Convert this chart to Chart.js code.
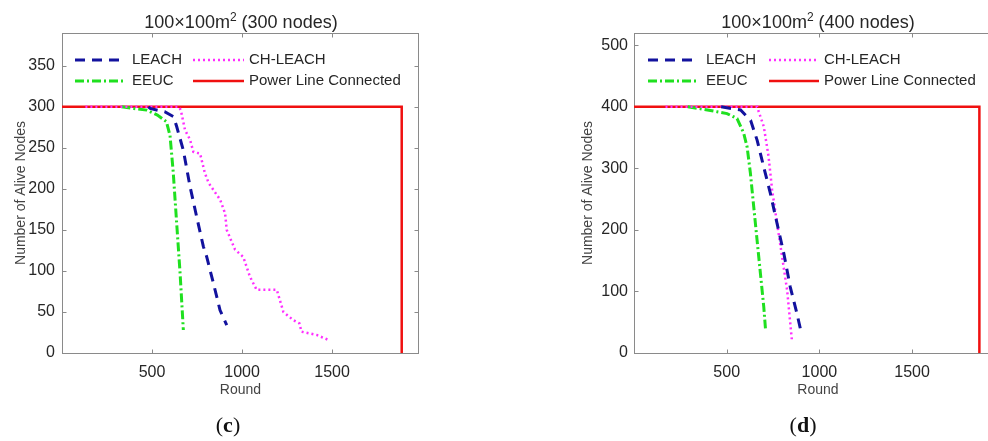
<!DOCTYPE html>
<html>
<head>
<meta charset="utf-8">
<title>Alive nodes per round</title>
<script src="https://cdn.jsdelivr.net/npm/chart.js"></script>
<style>
  body {
    margin: 0;
    background: #fff;
    width: 988px;
    height: 441px;
    overflow: hidden;
    position: relative;
    font-family: "Liberation Sans", Arial, sans-serif;
  }
  canvas { position: absolute; top: 0; }
  #chartC { left: 0; }
  #chartD { left: 494px; }
  .title {
    position: absolute;
    top: 11px;
    font-size: 18px;
    line-height: 22px;
    color: #262626;
    white-space: nowrap;
    transform: translateX(-50%);
  }
  .title sup { font-size: 12px; line-height: 0; vertical-align: 7px; }
  .panel {
    position: absolute;
    top: 412px;
    font-family: "Liberation Serif", serif;
    font-size: 22px;
    line-height: 26px;
    color: #111;
    transform: translateX(-50%);
  }
</style>
</head>
<body>
  <canvas id="chartC" width="494" height="441"></canvas>
  <canvas id="chartD" width="520" height="441"></canvas>
  <div class="title" style="left:241px">100×100m<sup>2</sup> (300 nodes)</div>
  <div class="title" style="left:818px">100×100m<sup>2</sup> (400 nodes)</div>
  <div class="panel" style="left:228px">(<b>c</b>)</div>
  <div class="panel" style="left:803px">(<b>d</b>)</div>

<script>
// Round / alive-node pairs, 300 node network
const leachC = [[480,300],[490,298],[570,294],[620,288],[637,276],[674,247],[711,203],[748,166],[785,130],[804,117],[841,85],[878,52],[915,34]];
const chLeachC = [[130,300],[650,300],[660,296],[683,272],[711,260],[730,245],[767,243],[794,219],[815,207],[878,187],[906,170],[915,150],[961,126],[1007,117],[1044,93],[1081,77],[1193,77],[1230,50],[1285,40],[1319,36],[1330,26],[1415,22],[1479,16]];
const eeucC = [[330,300],[400,298],[470,296],[530,290],[580,282],[600,265],[618,220],[637,158],[656,97],[674,28]];
const powerC = [[0,300],[1887,300],[1887,0]];

// Round / alive-node pairs, 400 node network
const leachD = [[470,400],[575,395],[629,378],[664,346],[700,302],[736,259],[772,210],[808,162],[843,107],[879,64],[897,40]];
const chLeachD = [[170,400],[664,400],[700,368],[726,319],[745,265],[772,210],[799,156],[826,102],[843,48],[852,20]];
const eeucD = [[290,400],[358,397],[448,392],[502,389],[556,381],[592,357],[610,335],[628,292],[646,237],[664,183],[682,129],[700,75],[709,40]];
const powerD = [[0,400],[1863,400],[1863,0]];

// axis ticks
const roundTicks = [500, 1000, 1500];
const aliveTicksC = [0, 50, 100, 150, 200, 250, 300, 350];
const aliveTicksD = [0, 100, 200, 300, 400, 500];

const seriesNames = ['LEACH', 'CH-LEACH', 'EEUC', 'Power Line Connected'];

const TEXT = '#262626';
const AXIS = '#8a8a8a';
const FONT = '"Liberation Sans", Arial, sans-serif';

function line(label, pts, color, dash, width) {
  return {
    label,
    data: pts.map(p => ({ x: p[0], y: p[1] })),
    showLine: true,
    borderColor: color,
    backgroundColor: color,
    borderDash: dash,
    borderWidth: width,
    pointRadius: 0,
    tension: 0
  };
}

// MATLAB-style box with inward ticks, plus the two-column legend
const boxPlot = {
  id: 'boxPlot',
  beforeDatasetsDraw(chart) {
    const { ctx, chartArea: a, scales: { x, y } } = chart;
    const L = Math.round(a.left) + 0.5, R = Math.round(a.right) - 0.5;
    const T = Math.round(a.top) + 0.5, B = Math.round(a.bottom) + 0.5;
    ctx.save();
    ctx.strokeStyle = AXIS;
    ctx.lineWidth = 1;
    ctx.strokeRect(L, T, R - L, B - T);
    ctx.beginPath();
    x.ticks.forEach(t => {
      const px = Math.round(x.getPixelForValue(t.value)) + 0.5;
      ctx.moveTo(px, B); ctx.lineTo(px, B - 4);
      ctx.moveTo(px, T); ctx.lineTo(px, T + 4);
    });
    y.ticks.forEach(t => {
      const py = Math.round(y.getPixelForValue(t.value)) + 0.5;
      ctx.moveTo(L, py); ctx.lineTo(L + 4, py);
      ctx.moveTo(R, py); ctx.lineTo(R - 4, py);
    });
    ctx.stroke();
    ctx.restore();
  },
  afterDatasetsDraw(chart, args, opts) {
    const { ctx, chartArea: a } = chart;
    ctx.save();
    ctx.font = '15px ' + FONT;
    ctx.textBaseline = 'middle';
    chart.data.datasets.forEach((ds, i) => {
      const col = opts.cols[i % 2];
      const yy = a.top + opts.rows[Math.floor(i / 2)];
      ctx.beginPath();
      ctx.strokeStyle = ds.borderColor;
      ctx.lineWidth = ds.borderWidth;
      ctx.setLineDash(ds.borderDash);
      ctx.moveTo(a.left + col[0], yy);
      ctx.lineTo(a.left + col[1], yy);
      ctx.stroke();
      ctx.setLineDash([]);
      ctx.fillStyle = TEXT;
      ctx.fillText(ds.label, a.left + col[2], yy);
    });
    ctx.restore();
  }
};

function buildChart(id, cfg) {
  new Chart(document.getElementById(id), {
    type: 'scatter',
    data: {
      datasets: [
        line(seriesNames[0], cfg.leach, '#12129e', [10, 7], 3),
        line(seriesNames[1], cfg.chLeach, '#ff2eff', [2, 3], 2.5),
        line(seriesNames[2], cfg.eeuc, '#1fe01f', [9, 3, 2, 3], 3),
        line(seriesNames[3], cfg.power, '#f01010', [], 2.5)
      ]
    },
    options: {
      responsive: false,
      animation: false,
      layout: { padding: { left: 0, right: cfg.padRight, top: 33, bottom: 0 } },
      plugins: {
        legend: { display: false },
        tooltip: { enabled: false },
        boxPlot: { rows: [27, 48], cols: cfg.legendCols }
      },
      scales: {
        x: {
          type: 'linear',
          min: 0,
          max: cfg.xMax,
          afterFit: s => { s.height = 88; },
          afterBuildTicks: s => { s.ticks = roundTicks.map(v => ({ value: v })); },
          grid: { display: false, drawTicks: false },
          border: { display: false },
          ticks: { padding: 10, color: TEXT, font: { family: FONT, size: 16 }, callback: v => v },
          title: {
            display: true, text: 'Round', color: '#444',
            font: { family: FONT, size: 14 }, padding: { top: 0, bottom: 42 }
          }
        },
        y: {
          type: 'linear',
          min: 0,
          max: cfg.yMax,
          afterFit: s => { s.width = cfg.areaLeft; },
          afterBuildTicks: s => { s.ticks = cfg.yTicks.map(v => ({ value: v })); },
          grid: { display: false, drawTicks: false },
          border: { display: false },
          ticks: { padding: cfg.yPad, color: TEXT, font: { family: FONT, size: 16 }, callback: v => v },
          title: {
            display: true, text: 'Number of Alive Nodes', color: '#444',
            font: { family: FONT, size: 14 }, padding: { top: cfg.yTitlePad, bottom: 0 }
          }
        }
      }
    },
    plugins: [boxPlot]
  });
}

buildChart('chartC', {
  leach: leachC, chLeach: chLeachC, eeuc: eeucC, power: powerC,
  xMax: 1983, yMax: 390, yTicks: aliveTicksC,
  areaLeft: 62, padRight: 75, yPad: 7, yTitlePad: 13,
  legendCols: [[13, 63, 70], [131, 182, 187]]
});

buildChart('chartD', {
  leach: leachD, chLeach: chLeachD, eeuc: eeucD, power: powerD,
  xMax: 1985, yMax: 520, yTicks: aliveTicksD,
  areaLeft: 140, padRight: 12, yPad: 6, yTitlePad: 86,
  legendCols: [[14, 65, 72], [135, 185, 190]]
});
</script>
</body>
</html>
